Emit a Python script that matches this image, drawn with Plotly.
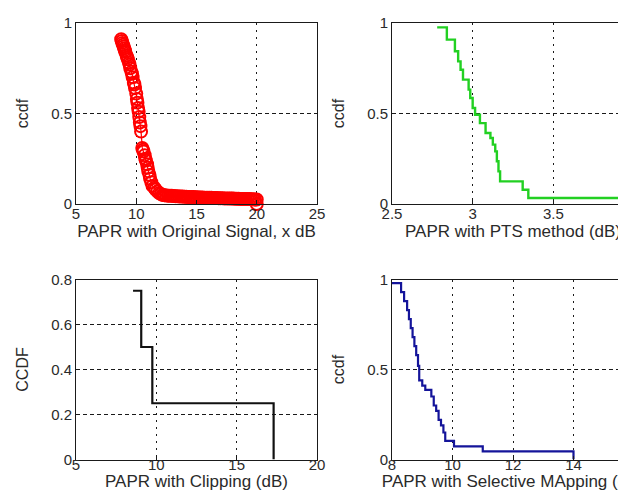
import plotly.graph_objects as go

# ---------------- data ----------------
# Top-left: PAPR of original signal (markers 'o' + line)
orig_papr = [8.75, 8.8, 8.85, 8.9, 8.95, 9.0, 9.05, 9.1, 9.2, 9.25, 9.3, 9.4, 9.45, 9.5,
             9.6, 9.65, 9.7, 9.8, 9.85, 9.9, 10.0, 10.05, 10.1, 10.15, 10.2, 10.25, 10.3,
             10.35, 10.4,
             10.5, 10.55, 10.6, 10.7, 10.75, 10.8, 10.9, 10.95, 11.0, 11.1, 11.15, 11.25,
             11.35, 11.5, 11.6, 11.75, 11.9, 12.05,
             12.2, 12.35, 12.5, 12.65, 12.8, 12.95, 13.1, 13.25, 13.4, 13.55, 13.7, 13.85,
             14.0, 14.15, 14.3, 14.45, 14.6, 14.75, 14.9, 15.05, 15.2, 15.35, 15.5, 15.65,
             15.8, 15.95, 16.1, 16.25, 16.4, 16.55, 16.7, 16.85, 17.0, 17.15, 17.3, 17.45,
             17.6, 17.75, 17.9, 18.05, 18.2, 18.35, 18.5, 18.65, 18.8, 18.95, 19.1, 19.25,
             19.4, 19.55, 19.7, 19.85, 20.0,
             20.0]
orig_ccdf = [0.91, 0.90, 0.89, 0.88, 0.87, 0.86, 0.85, 0.84, 0.82, 0.81, 0.80, 0.78, 0.77, 0.75,
             0.73, 0.72, 0.70, 0.67, 0.66, 0.64, 0.61, 0.58, 0.56, 0.53, 0.51, 0.48, 0.45,
             0.43, 0.40,
             0.31, 0.30, 0.29, 0.27, 0.25, 0.24, 0.22, 0.20, 0.18, 0.16, 0.14, 0.12,
             0.10, 0.09, 0.08, 0.07, 0.06, 0.055,
             0.05, 0.048, 0.047, 0.046, 0.045, 0.045, 0.044, 0.043, 0.043, 0.042, 0.041, 0.041,
             0.040, 0.040, 0.039, 0.039, 0.038, 0.038, 0.037, 0.037, 0.036, 0.036, 0.036, 0.035,
             0.035, 0.034, 0.034, 0.034, 0.033, 0.033, 0.033, 0.032, 0.032, 0.032, 0.031, 0.031,
             0.031, 0.030, 0.030, 0.030, 0.029, 0.029, 0.029, 0.028, 0.028, 0.028, 0.027, 0.027,
             0.027, 0.026, 0.026, 0.025, 0.025,
             0.0]

# Top-right: PTS method (staircase)
pts_papr = [2.78, 2.84, 2.89, 2.91, 2.925, 2.94, 2.975, 2.985, 3.0, 3.015, 3.045, 3.08,
            3.11, 3.125, 3.14, 3.15, 3.16, 3.17, 3.31, 3.345, 3.90, 3.92]
pts_ccdf = [0.976, 0.908, 0.844, 0.788, 0.742, 0.687, 0.632, 0.586, 0.53, 0.493, 0.447, 0.392,
            0.365, 0.328, 0.291, 0.236, 0.18, 0.125, 0.079, 0.033, 0.033, 0.0]

# Bottom-left: Clipping (staircase)
clip_papr = [8.55, 9.06, 9.75, 17.3]
clip_ccdf = [0.75, 0.5, 0.25, 0.0]

# Bottom-right: Selective Mapping (staircase)
slm_papr = [8.00, 8.30, 8.40, 8.50, 8.56, 8.62, 8.68, 8.74, 8.80, 8.86, 8.90, 9.00, 9.10,
            9.30, 9.38, 9.46, 9.54, 9.62, 9.70, 9.76, 10.05, 11.0, 14.0]
slm_ccdf = [0.98, 0.93, 0.88, 0.83, 0.78, 0.73, 0.68, 0.63, 0.58, 0.52, 0.44, 0.41, 0.387,
            0.35, 0.30, 0.27, 0.22, 0.19, 0.15, 0.104, 0.073, 0.045, 0.0]

# axis settings (ranges / ticks)
x1_range, x1_dtick = [5, 25], 5
x2_range, x2_dtick = [2.5, 4], 0.5
x3_range, x3_dtick = [5, 20], 5
x4_range, x4_dtick = [8, 16], 2
y1_range, y1_dtick = [0, 1], 0.5
y3_range, y3_dtick = [0, 0.8], 0.2

x_titles = ["PAPR with Original Signal, x dB", "PAPR with PTS method (dB)",
            "PAPR with Clipping (dB)", "PAPR with Selective MApping (dB)"]
y_titles = ["ccdf", "ccdf", "CCDF", "ccdf"]

# ---------------- figure ----------------
W, H = 626, 500
FONT = "Liberation Sans, Arial, sans-serif"
TXT = "#2a2a2a"

fig = go.Figure()

fig.add_trace(go.Scatter(x=orig_papr, y=orig_ccdf, mode="lines+markers",
                         line=dict(color="#ff0000", width=1.2),
                         marker=dict(symbol="circle-open", size=12, color="#ff0000",
                                     line=dict(width=2, color="#ff0000")),
                         cliponaxis=False, xaxis="x", yaxis="y", showlegend=False))
fig.add_trace(go.Scatter(x=pts_papr, y=pts_ccdf, mode="lines", line_shape="hv",
                         line=dict(color="#22d022", width=2.4),
                         xaxis="x2", yaxis="y2", showlegend=False))
fig.add_trace(go.Scatter(x=clip_papr, y=clip_ccdf, mode="lines", line_shape="hv",
                         line=dict(color="#111111", width=2.2),
                         xaxis="x3", yaxis="y3", showlegend=False))
fig.add_trace(go.Scatter(x=slm_papr, y=slm_ccdf, mode="lines", line_shape="hv",
                         line=dict(color="#14149a", width=2.2),
                         xaxis="x4", yaxis="y4", showlegend=False))

xdom = [[68 / W, 309 / W], [384 / W, 1.0], [68 / W, 309 / W], [384 / W, 1.0]]
ydom = [[1 - 196 / H, 1 - 15 / H], [1 - 196 / H, 1 - 15 / H],
        [1 - 451.5 / H, 1 - 271.5 / H], [1 - 451.5 / H, 1 - 271.5 / H]]
xr = [x1_range, x2_range, x3_range, x4_range]
xd = [x1_dtick, x2_dtick, x3_dtick, x4_dtick]
yr = [y1_range, y1_range, y3_range, y1_range]
yd = [y1_dtick, y1_dtick, y3_dtick, y1_dtick]
x_lbl_standoff = [-4, -4, -9, -9]

axis_common = dict(showline=True, linecolor="#1a1a1a", linewidth=1, mirror=True,
                   ticks="inside", ticklen=4, tickcolor="#1a1a1a", zeroline=False,
                   showgrid=True, gridcolor="#1a1a1a", gridwidth=1, automargin=False,
                   ticklabeloverflow="allow",
                   tickfont=dict(family=FONT, size=15, color=TXT))
layout = {}
for i in range(4):
    sfx = "" if i == 0 else str(i + 1)
    layout["xaxis" + sfx] = dict(axis_common, domain=xdom[i], range=xr[i], dtick=xd[i],
                                 tick0=xr[i][0], anchor="y" + sfx, griddash="2px,5px",
                                 ticklabelstandoff=x_lbl_standoff[i],
                                 title=dict(text=x_titles[i], standoff=0,
                                            font=dict(family=FONT, size=17, color=TXT)))
    layout["yaxis" + sfx] = dict(axis_common, domain=ydom[i], range=yr[i], dtick=yd[i],
                                 tick0=0, anchor="x" + sfx, griddash="4px,3px",
                                 title=dict(text=y_titles[i], standoff=18,
                                            font=dict(family=FONT, size=16, color=TXT)))

fig.update_layout(**layout)
fig.update_layout(width=W, height=H, margin=dict(l=0, r=0, t=0, b=0),
                  paper_bgcolor="white", plot_bgcolor="white", template="none",
                  font=dict(family=FONT, color=TXT))

fig.write_html("out.html")
